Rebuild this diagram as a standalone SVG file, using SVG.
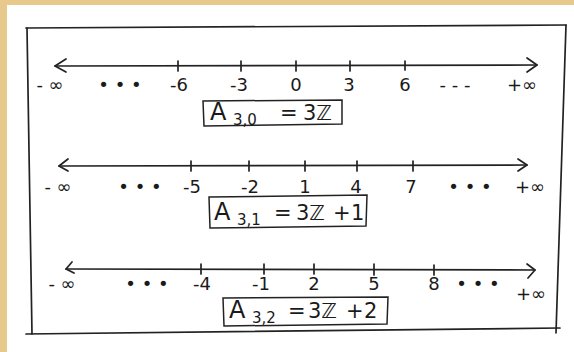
<svg xmlns="http://www.w3.org/2000/svg" width="574" height="352" viewBox="0 0 574 352">
<defs>
<style>
.ln{stroke:#222;stroke-width:1.7;fill:none;stroke-linecap:round;stroke-linejoin:round}
.bx{stroke:#222;stroke-width:1.5;fill:none}
.lb{font-family:"DejaVu Sans","Liberation Sans",sans-serif;font-size:18px;fill:#1a1a1a;text-anchor:middle}
.eq{font-family:"DejaVu Sans","Liberation Sans",sans-serif;font-size:21px;fill:#1a1a1a}
.big{font-size:24px}
.sub{font-size:15px}
</style>
</defs>
<rect x="0" y="0" width="574" height="352" fill="#e8c98c"/>
<rect x="7" y="5" width="567" height="347" fill="#ffffff"/>
<g id="frame">
<path class="ln" d="M26 28 L566 25"/>
<path class="ln" d="M27 28 L32 334"/>
<path class="ln" d="M566 25 L556 333"/>
<path class="ln" d="M26 334 L560 328"/>
</g>
<g id="connectors">
<path class="ln" d="M55 66 L537 65"/>
<path class="ln" d="M66 59 L55 66 L66 72"/>
<path class="ln" d="M527 58 L537 65 L527 72"/>
<path class="ln" d="M59 166 L527 165"/>
<path class="ln" d="M68 159 L59 166 L68 171"/>
<path class="ln" d="M518 159 L527 165 L518 171"/>
<path class="ln" d="M66 269 L535 270"/>
<path class="ln" d="M72 262 L66 269 L74 273"/>
<path class="ln" d="M527 264 L535 270 L528 278"/>
</g>
<g id="ticks">
<path class="ln" d="M178 61 V71 M241 61 V71 M296 61 V71 M350 61 V71 M405 61 V70"/>
<path class="ln" d="M191 161 V171 M249 161 V171 M305 161 V171 M357 161 V171 M413 161 V171"/>
<path class="ln" d="M201 264 V274 M264 264 V274 M314 264 V274 M374 264 V275 M434 265 V275"/>
</g>
<g id="line1-labels">
<text class="lb" x="50" y="91">- ∞</text>
<text class="lb" x="120" y="91">• • •</text>
<text class="lb" x="179" y="91">-6</text>
<text class="lb" x="239" y="91">-3</text>
<text class="lb" x="296" y="91">0</text>
<text class="lb" x="349" y="91">3</text>
<text class="lb" x="405" y="91">6</text>
<text class="lb" x="455" y="91">- - -</text>
<text class="lb" x="522" y="91">+∞</text>
</g>
<g id="box1">
<path class="bx" d="M203 101 L342 100 L342 124 L204 126 Z"/>
<text class="eq" y="120"><tspan class="big" x="210">A</tspan><tspan class="sub" x="233" dy="5">3,0</tspan><tspan x="280" dy="-5">=</tspan><tspan x="303">3ℤ</tspan></text>
</g>
<g id="line2-labels">
<text class="lb" x="58" y="193">- ∞</text>
<text class="lb" x="140" y="193">• • •</text>
<text class="lb" x="192" y="193">-5</text>
<text class="lb" x="250" y="193">-2</text>
<text class="lb" x="305" y="193">1</text>
<text class="lb" x="356" y="193">4</text>
<text class="lb" x="411" y="193">7</text>
<text class="lb" x="470" y="193">• • •</text>
<text class="lb" x="530" y="193">+∞</text>
</g>
<g id="box2">
<path class="bx" d="M209 197 L367 195 L366 226 L210 228 Z"/>
<text class="eq" y="220"><tspan class="big" x="214">A</tspan><tspan class="sub" x="237" dy="5">3,1</tspan><tspan x="274" dy="-5">=</tspan><tspan x="296">3ℤ</tspan><tspan x="333">+</tspan><tspan x="351">1</tspan></text>
</g>
<g id="line3-labels">
<text class="lb" x="62" y="290">- ∞</text>
<text class="lb" x="147" y="290">• • •</text>
<text class="lb" x="202" y="290">-4</text>
<text class="lb" x="261" y="290">-1</text>
<text class="lb" x="314" y="290">2</text>
<text class="lb" x="374" y="290">5</text>
<text class="lb" x="434" y="290">8</text>
<text class="lb" x="478" y="290">• • •</text>
<text class="lb" x="531" y="300">+∞</text>
</g>
<g id="box3">
<path class="bx" d="M223 298 L388 297 L387 324 L224 326 Z"/>
<text class="eq" y="318"><tspan class="big" x="229">A</tspan><tspan class="sub" x="252" dy="5">3,2</tspan><tspan x="288" dy="-5">=</tspan><tspan x="308">3ℤ</tspan><tspan x="346">+</tspan><tspan x="364">2</tspan></text>
</g>
</svg>
